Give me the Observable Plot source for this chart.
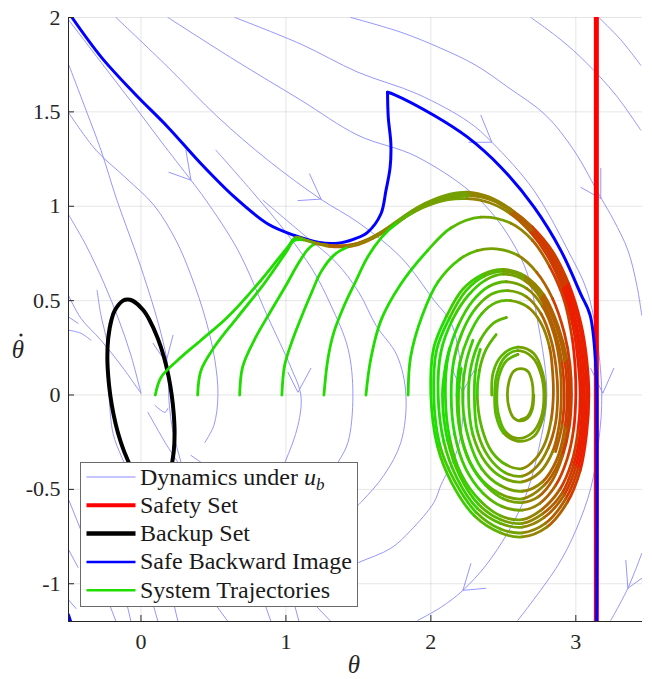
<!DOCTYPE html>
<html>
<head>
<meta charset="utf-8">
<script src="https://cdn.jsdelivr.net/npm/d3@7"></script>
<script src="https://cdn.jsdelivr.net/npm/@observablehq/plot@0.6"></script>
<style>
  html, body { margin: 0; padding: 0; background: #fff; }
  #wrap { position: relative; width: 652px; height: 679px; }
  #chart svg { display: block; }
  #overlay { position: absolute; left: 0; top: 0; pointer-events: none; }
  #wrap svg, #wrap svg text { font-family: "Liberation Serif", "Times New Roman", "DejaVu Serif", serif !important; }
</style>
</head>
<body>
<div id="wrap">
  <div id="chart"></div>
  <svg id="overlay" width="652" height="679"></svg>
</div>
<script>
// ---------- axes ----------
const xDomain = [-0.5, 3.46];
const yDomain = [-1.2, 2];
const xTicks = [0, 1, 2, 3];
const yTicks = [-1, -0.5, 0, 0.5, 1, 1.5, 2];
const xLabel = "θ";
const yLabel = "θ";   // drawn with a dot above it (time derivative)

// ---------- safety set boundary (theta = pi) ----------
const safetyTheta = [3.1416];

// ---------- backup set (closed curve) ----------
const backupSet = [
  [-0.092,0.506],[-0.059,0.5],[0.015,0.45],[0.057,0.4],[0.116,0.3],[0.159,0.2],[0.19,0.1],[0.212,0],
  [0.226,-0.1],[0.232,-0.2],[0.226,-0.3],[0.203,-0.4],[0.179,-0.45],[0.124,-0.5],[0.092,-0.506],
  [0.059,-0.5],[-0.015,-0.45],[-0.057,-0.4],[-0.116,-0.3],[-0.159,-0.2],[-0.19,-0.1],[-0.212,0],
  [-0.226,0.1],[-0.232,0.2],[-0.226,0.3],[-0.203,0.4],[-0.179,0.45],[-0.124,0.5]
];

// ---------- safe backward image ----------
const backwardImageA = [
  [-0.476,2.0],[-0.274,1.790],[-0.043,1.596],[0.186,1.419],[0.416,1.224],[0.646,1.048],[0.876,0.906],
  [1.060,0.845],[1.221,0.809],[1.359,0.804],[1.474,0.827],[1.563,0.862],[1.655,0.959],[1.690,1.083],
  [1.719,1.207],[1.724,1.330],[1.706,1.472],[1.701,1.604]
];
const backwardImageB = [
  [1.701,1.604],[1.747,1.592],[2.023,1.481],[2.253,1.366],[2.483,1.207],[2.712,0.995],[2.897,0.765],
  [3.034,0.535],[3.099,0.422],[3.138,0.157],[3.145,-0.02],[3.143,-1.2]
];
const backwardImageC = [[-0.5,-1.165],[-0.485,-1.2]];

// ---------- streamlines of the dynamics under u_b ----------
const streamlines = [
  [[-0.497,1.985],[-0.276,1.763],[-0.069,1.556],[0.138,1.344],[0.345,1.138],[0.448,1.032],[0.669,0.767],[0.876,0.412],[1.034,0.147],[1.103,-0.002],[1.083,-0.161],[0.993,-0.357],[0.897,-0.505]],
  [[-0.497,1.747],[-0.379,1.509],[-0.276,1.297],[-0.166,1.032],[0,0.676],[0.138,0.327],[0.186,0.147],[0.193,-0.028],[0.221,-0.198],[0.276,-0.357],[0.317,-0.505]],
  [[-0.497,1.493],[-0.310,1.297],[-0.103,1.149],[0.090,1.005],[0.241,0.820],[0.345,0.634],[0.448,0.396],[0.510,0.184],[0.531,-0.002],[0.503,-0.161],[0.441,-0.251]],
  [[-0.497,0.952],[-0.379,0.793],[-0.255,0.592],[-0.152,0.396],[-0.069,0.210],[0,0.009]],
  [[-0.497,0.523],[-0.414,0.406],[-0.276,0.290],[-0.138,0.158],[0,0.009]],
  [[-0.303,0.555],[-0.276,0.422],[-0.234,0.274],[-0.221,0.009],[-0.193,-0.203],[-0.138,-0.320],[-0.090,-0.399]],
  [[-0.497,0.412],[-0.434,0.380]],
  [[-0.497,0.343],[-0.414,0.327],[-0.345,0.290]],
  [[0.097,-0.055],[0.166,-0.092],[0.186,-0.070]],
  [[0.048,-0.092],[0.166,-0.251],[0.255,-0.357]],
  [[0.345,-0.320],[0.414,-0.357]],
  [[-0.172,2.0],[0.186,1.737],[0.531,1.472],[0.876,1.244],[1.241,1.037],[1.497,0.915],[1.793,0.730],[2.021,0.502],[2.138,0.385],[2.207,0.158],[2.228,-0.002],[2.186,-0.282],[2.069,-0.478],[2.021,-0.569],[1.862,-0.717],[1.724,-0.812],[1.503,-0.887],[1.310,-0.955]],
  [[0.186,2.0],[0.648,1.774],[1.103,1.562],[1.497,1.376],[1.910,1.260],[2.366,1.011],[2.641,0.692],[2.738,0.385],[2.800,-0.002],[2.745,-0.282],[2.655,-0.532],[2.531,-0.728],[2.379,-0.903],[2.221,-1.035],[2.069,-1.125],[1.910,-1.194]],
  [[0.648,2.0],[1.103,1.859],[1.497,1.710],[1.910,1.594],[2.262,1.446],[2.421,1.339],[2.710,1.085],[2.945,0.767],[3.076,0.555],[3.138,0.343],[3.179,0.009],[3.159,-0.240],[3.103,-0.494],[3.0,-0.717],[2.876,-0.903],[2.600,-1.194]],
  [[1.448,2.0],[1.793,1.922],[2.069,1.837],[2.310,1.747],[2.531,1.631],[2.793,1.482],[2.986,1.297],[3.172,1.046],[3.262,0.925],[3.359,0.767],[3.421,0.581],[3.455,0.422]],
  [[2.690,2.0],[2.897,1.882],[3.069,1.763],[3.276,1.589],[3.448,1.403]],
  [[3.159,2.0],[3.310,1.882],[3.448,1.747]],
  [[3.455,-0.839],[3.359,-1.024],[3.241,-1.194]],
  [[0.841,1.032],[1.103,0.862],[1.345,0.703],[1.503,0.544],[1.621,0.369],[1.766,0.210],[1.828,-0.002],[1.793,-0.251],[1.676,-0.425],[1.517,-0.569],[1.310,-0.717]],
  [[0.517,1.297],[0.759,1.085],[1.0,0.862],[1.186,0.661],[1.310,0.476],[1.428,0.247],[1.462,-0.002],[1.428,-0.251],[1.359,-0.357],[1.241,-0.505]],
  [[-0.228,-1.088],[-0.172,-1.2]],
  [[-0.103,-1.088],[-0.069,-1.2]],
  [[0.076,-1.088],[0.117,-1.2]],
  [[0.221,-1.088],[0.255,-1.2]],
  [[0.483,-1.078],[0.600,-1.2]],
  [[0.841,-1.078],[0.897,-1.2]],
  [[1.048,-1.078],[1.090,-1.2]],
  [[1.159,-1.078],[1.310,-1.2]],
  [[-0.497,-0.558],[-0.414,-0.717]],
  [[-0.497,-0.823],[-0.434,-0.913]],
  [[-0.497,-1.088],[-0.448,-1.131]]
];

// ---------- arrow heads on the streamlines (wing, tip, wing) ----------
const arrowHeads = [
  [[0.310,1.297],[0.345,1.138],[0.193,1.180]],
  [[1.083,1.030],[1.243,1.038],[1.163,1.171]],
  [[2.262,1.339],[2.421,1.339],[2.345,1.482]],
  [[3.034,1.100],[3.172,1.041],[3.172,1.201]],
  [[3.103,0.141],[3.186,0.009],[3.262,0.141]],
  [[2.150,0.131],[2.219,0.016],[2.299,0.131]],
  [[1.014,0.120],[1.083,0.014],[1.172,0.141]],
  [[2.276,-0.893],[2.221,-1.035],[2.379,-1.024]],
  [[3.345,-0.876],[3.359,-1.024],[3.455,-0.971]],
  [[0.083,0.274],[0.172,0.173],[0.221,0.316]]
];

// ---------- system trajectories: [theta, thetaDot, colour level] ----------
const trajColors = ["#20dc00","#3dcc00","#5ab600","#74a000","#948300","#b06000","#cf3c00","#ea1f00"];
const trajectories = [
  [[0.099,0,0],[0.138,0.093,0],[0.253,0.184,0],[0.414,0.29,0],[0.598,0.413,0],[0.828,0.608,0],[1.012,0.784,0],[1.069,0.835,3],[1.15,0.818,4],[1.25,0.798,5],[1.35,0.79,5],[1.45,0.795,5],[1.55,0.82,4],[1.68,0.875,3],[1.8,0.94,3],[1.91,0.995,3],[2.02,1.035,3],[2.14,1.065,3],[2.25,1.075,4],[2.4,1.05,4],[2.55,0.985,5],[2.7,0.89,6],[2.84,0.76,6],[2.95,0.59,7],[3.035,0.38,7],[3.075,0.19,7],[3.09,0,7],[3.075,-0.2,7],[3.03,-0.4,6],[2.94,-0.57,5],[2.8,-0.7,4],[2.63,-0.752,3],[2.48,-0.73,2],[2.3,-0.64,1],[2.14,-0.46,1],[2.045,-0.27,0],[2.0,0,0],[2.02,0.25,0],[2.11,0.42,1],[2.22,0.56,1],[2.36,0.64,2],[2.5,0.665,3],[2.65,0.63,4],[2.78,0.53,5],[2.88,0.36,5],[2.94,0.18,6],[2.955,0,6],[2.94,-0.18,5],[2.88,-0.36,5],[2.78,-0.48,4],[2.63,-0.55,3],[2.47,-0.52,2],[2.32,-0.42,1],[2.22,-0.25,1],[2.19,-0.05,1],[2.2,0.1,1],[2.21,0.14,1]],
  [[0.391,0,0],[0.414,0.13,0],[0.506,0.254,0],[0.667,0.413,0],[0.85,0.59,0],[1.0,0.755,0],[1.057,0.818,0],[1.12,0.822,3],[1.2,0.805,4],[1.3,0.792,5],[1.4,0.79,5],[1.5,0.803,5],[1.6,0.835,4],[1.72,0.89,3],[1.84,0.955,3],[1.95,1.005,3],[2.06,1.04,3],[2.17,1.062,3],[2.27,1.068,4],[2.42,1.04,4],[2.56,0.975,5],[2.7,0.88,6],[2.83,0.75,6],[2.94,0.58,7],[3.02,0.38,7],[3.06,0.19,7],[3.075,0,7],[3.06,-0.2,7],[3.015,-0.39,6],[2.93,-0.55,5],[2.79,-0.68,4],[2.63,-0.73,3],[2.48,-0.71,2],[2.31,-0.62,1],[2.16,-0.45,1],[2.06,-0.26,0],[2.02,0,0],[2.04,0.24,0],[2.13,0.41,1],[2.24,0.55,1],[2.37,0.63,2],[2.5,0.655,3],[2.65,0.62,4],[2.77,0.52,5],[2.87,0.35,5],[2.925,0.17,6],[2.94,0,6],[2.925,-0.17,5],[2.87,-0.34,5],[2.77,-0.46,4],[2.63,-0.51,3],[2.48,-0.48,2],[2.35,-0.39,1],[2.26,-0.23,1],[2.22,-0.04,1],[2.24,0.16,1],[2.29,0.29,1]],
  [[0.681,0,0],[0.701,0.148,0],[0.781,0.29,0],[0.9,0.45,0],[1.0,0.58,0],[1.08,0.69,0],[1.15,0.77,0],[1.2,0.80,4],[1.3,0.787,5],[1.4,0.785,5],[1.5,0.797,5],[1.6,0.83,4],[1.72,0.885,3],[1.84,0.95,3],[1.95,1.0,3],[2.06,1.035,3],[2.17,1.057,3],[2.27,1.062,4],[2.42,1.035,4],[2.56,0.97,5],[2.7,0.87,6],[2.82,0.745,6],[2.93,0.575,7],[3.005,0.375,7],[3.045,0.19,7],[3.06,0,7],[3.045,-0.2,7],[3.0,-0.38,6],[2.92,-0.53,5],[2.78,-0.65,4],[2.63,-0.70,3],[2.48,-0.68,2],[2.32,-0.6,1],[2.18,-0.44,1],[2.09,-0.25,0],[2.05,0,0],[2.07,0.23,0],[2.15,0.40,1],[2.26,0.53,1],[2.38,0.61,2],[2.5,0.64,3],[2.65,0.605,4],[2.76,0.51,5],[2.855,0.34,5],[2.905,0.17,6],[2.92,0,6],[2.905,-0.16,5],[2.86,-0.3,5]],
  [[0.972,0,0],[0.991,0.157,0],[1.04,0.28,0],[1.1,0.40,0],[1.17,0.53,0],[1.244,0.655,0],[1.33,0.74,0],[1.43,0.785,4],[1.52,0.805,4],[1.62,0.845,4],[1.73,0.895,3],[1.85,0.955,3],[1.96,1.0,3],[2.07,1.03,3],[2.18,1.05,3],[2.28,1.055,4],[2.43,1.03,4],[2.57,0.965,5],[2.71,0.865,6],[2.82,0.74,6],[2.92,0.57,7],[2.995,0.37,7],[3.03,0.185,7],[3.045,0,7],[3.03,-0.2,7],[2.985,-0.37,6],[2.905,-0.52,5],[2.77,-0.63,4],[2.63,-0.68,3],[2.48,-0.66,2],[2.33,-0.58,1],[2.2,-0.43,1],[2.115,-0.24,0],[2.08,0,0],[2.1,0.15,0],[2.13,0.25,0]],
  [[1.262,0,0],[1.29,0.193,0],[1.33,0.33,0],[1.40,0.47,0],[1.48,0.6,0],[1.563,0.73,0],[1.66,0.835,0],[1.77,0.915,2],[1.88,0.97,3],[2.0,1.01,3],[2.12,1.035,3],[2.25,1.04,4],[2.4,1.02,4],[2.55,0.96,5],[2.69,0.86,6],[2.81,0.73,6],[2.91,0.56,7],[2.98,0.365,7],[3.015,0.18,7],[3.03,0,7],[3.015,-0.19,6],[2.97,-0.36,6],[2.89,-0.5,5],[2.76,-0.61,4],[2.63,-0.66,3],[2.48,-0.64,2],[2.34,-0.56,1],[2.21,-0.42,1],[2.13,-0.23,0],[2.1,0,0],[2.12,0.21,0],[2.19,0.37,1],[2.29,0.5,1],[2.4,0.575,2],[2.52,0.6,3],[2.66,0.565,4],[2.77,0.47,5],[2.85,0.32,5],[2.89,0.16,5],[2.9,0,5],[2.885,-0.16,5],[2.84,-0.3,4],[2.75,-0.41,4],[2.63,-0.46,3],[2.5,-0.44,2],[2.38,-0.36,2],[2.29,-0.21,1],[2.26,0,1],[2.28,0.16,1],[2.34,0.29,2],[2.43,0.38,2],[2.52,0.41,3]],
  [[1.552,0,0],[1.586,0.193,0],[1.655,0.394,0],[1.793,0.588,0],[1.977,0.765,1],[2.138,0.885,2],[2.345,0.942,3],[2.552,0.91,4],[2.7,0.82,5],[2.82,0.68,6],[2.92,0.5,6],[2.975,0.3,7],[2.995,0.15,7],[3.0,0,7],[2.985,-0.18,6],[2.94,-0.34,6],[2.86,-0.48,5],[2.75,-0.575,4],[2.63,-0.61,3],[2.49,-0.59,2],[2.36,-0.52,1],[2.24,-0.39,1],[2.165,-0.21,0],[2.14,0,0],[2.16,0.19,1],[2.22,0.34,1],[2.31,0.46,2],[2.42,0.535,2],[2.53,0.553,3],[2.66,0.52,4],[2.76,0.43,5],[2.83,0.29,5],[2.865,0.14,5],[2.875,0,5],[2.86,-0.15,5],[2.81,-0.28,4],[2.73,-0.38,4],[2.63,-0.43,3],[2.51,-0.41,2],[2.4,-0.33,2],[2.32,-0.19,1],[2.3,0,1],[2.31,0.14,1],[2.34,0.24,2]],
  [[1.843,0,0],[1.86,0.2,0],[1.94,0.42,0],[2.05,0.6,1],[2.2,0.72,2],[2.32,0.765,3],[2.45,0.774,3],[2.6,0.74,4],[2.73,0.65,5],[2.84,0.51,6],[2.92,0.33,6],[2.96,0.16,6],[2.97,0,6],[2.955,-0.17,6],[2.91,-0.32,5],[2.84,-0.45,5],[2.74,-0.54,4],[2.63,-0.57,3],[2.5,-0.55,2],[2.38,-0.48,1],[2.27,-0.36,1],[2.2,-0.19,1],[2.18,0,0],[2.2,0.17,1],[2.26,0.31,1],[2.35,0.43,2],[2.45,0.49,2],[2.55,0.5,3],[2.67,0.465,4],[2.76,0.38,4],[2.82,0.25,5],[2.84,0.12,5],[2.845,0,5],[2.83,-0.13,4],[2.79,-0.25,4],[2.72,-0.34,4],[2.63,-0.39,3],[2.52,-0.37,2],[2.42,-0.3,2],[2.35,-0.17,2],[2.32,0,1],[2.335,0.13,2],[2.38,0.24,2],[2.45,0.32,2]],
  [[2.42,0,2],[2.43,0.12,2],[2.49,0.21,2],[2.6,0.254,3],[2.71,0.22,3],[2.77,0.12,3],[2.79,0,3],[2.77,-0.13,3],[2.71,-0.22,3],[2.6,-0.245,3],[2.5,-0.2,2],[2.45,-0.11,2],[2.44,0,2],[2.455,0.11,2],[2.51,0.2,2],[2.6,0.235,3],[2.7,0.2,3],[2.76,0.11,3],[2.78,0,3],[2.76,-0.12,3],[2.7,-0.2,3],[2.6,-0.23,3],[2.51,-0.19,2],[2.465,-0.1,2],[2.455,0,2],[2.47,0.1,2],[2.52,0.18,2],[2.6,0.215,3]],
  [[2.71,0,3],[2.70,-0.075,3],[2.67,-0.12,3],[2.62,-0.137,3],[2.57,-0.12,3],[2.54,-0.07,3],[2.528,0,3],[2.54,0.075,3],[2.57,0.125,3],[2.62,0.14,3],[2.67,0.125,3],[2.698,0.07,3],[2.705,0,3],[2.695,-0.07,3],[2.665,-0.115,3],[2.62,-0.13,3]]
];

// ---------- legend ----------
const streamColor = "#8a8aff";
const legendItems = [
  {label: "Dynamics under ", sub: true, color: streamColor, width: 1},
  {label: "Safety Set", color: "#ff0000", width: 4},
  {label: "Backup Set", color: "#000000", width: 4.5},
  {label: "Safe Backward Image", color: "#0000ff", width: 2.5},
  {label: "System Trajectories", color: "#22dd00", width: 2.5}
];

// ---------- build tables ----------
const streamRows = streamlines.flatMap((line, id) => line.map(([x, y]) => ({x, y, id})));
const arrowRows = arrowHeads.flatMap((a, id) => a.map(([x, y]) => ({x, y, id})));
const backupRows = backupSet.map(([x, y]) => ({x, y}));
const blueRows = [backwardImageA, backwardImageB, backwardImageC].flatMap((b, id) => b.map(([x, y]) => ({x, y, id})));

// split each trajectory into runs of one colour; each run carries one neighbour
// on each side as a spline control point (catmull-rom-open), so the pieces join
// into the same smooth curve as the whole trajectory.
const trajRows = [];
let segId = 0;
trajectories.forEach((tr) => {
  const n = tr.length;
  let start = 0;
  for (let i = 1; i <= n; i++) {
    if (i === n || tr[i][2] !== tr[start][2]) {
      const end = Math.min(i, n - 1);
      const idx = [Math.max(start - 1, 0)];
      for (let j = start; j <= end; j++) idx.push(j);
      idx.push(Math.min(end + 1, n - 1));
      const col = trajColors[tr[start][2]];
      idx.forEach((j) => trajRows.push({x: tr[j][0], y: tr[j][1], seg: segId, col}));
      segId++;
      start = i;
    }
  }
});

const fmt = (d) => String(d);
const W = 652, H = 679, ML = 68, MR = 10, MT = 17, MB = 58;
const FONT = "'Liberation Serif', 'Times New Roman', 'DejaVu Serif', serif";

const chart = Plot.plot({
  width: W, height: H,
  marginLeft: ML, marginRight: MR, marginTop: MT, marginBottom: MB,
  style: {fontFamily: FONT, fontSize: "22px", color: "#262626", background: "#fff"},
  x: {domain: xDomain, ticks: xTicks, tickFormat: fmt, tickSize: 0, tickPadding: 12, label: null},
  y: {domain: yDomain, ticks: yTicks, tickFormat: fmt, tickSize: 0, tickPadding: 8, label: null},
  color: {type: "identity"},
  marks: [
    Plot.ruleX(xTicks, {stroke: "#000", strokeOpacity: 0.1}),
    Plot.ruleY(yTicks, {stroke: "#000", strokeOpacity: 0.1}),
    Plot.line(streamRows, {x: "x", y: "y", z: "id", stroke: streamColor, strokeWidth: 0.9, curve: "catmull-rom", clip: true}),
    Plot.line(arrowRows, {x: "x", y: "y", z: "id", stroke: streamColor, strokeWidth: 0.9, clip: true}),
    Plot.ruleX(safetyTheta, {stroke: "#ff0000", strokeWidth: 5}),
    Plot.line(backupRows, {x: "x", y: "y", stroke: "#000", strokeWidth: 4, curve: "catmull-rom-closed"}),
    Plot.line(blueRows, {x: "x", y: "y", z: "id", stroke: "#0000ff", strokeWidth: 3, curve: "catmull-rom", clip: true}),
    Plot.line(trajRows, {x: "x", y: "y", z: "seg", stroke: "col", strokeWidth: 2.8, curve: "catmull-rom-open", strokeLinecap: "round", strokeLinejoin: "round", clip: true}),
    Plot.ruleX([xDomain[0]], {stroke: "#262626"}),
    Plot.ruleY([yDomain[0]], {stroke: "#262626"}),
    Plot.ruleX(xTicks, {stroke: "#262626", insetTop: H - MT - MB - 6}),
    Plot.ruleY(yTicks, {stroke: "#262626", insetRight: W - ML - MR - 6})
  ]
});
document.getElementById("chart").appendChild(chart);

// ---------- overlay: axis labels + legend ----------
const ov = d3.select("#overlay");
ov.append("text").attr("x", 18).attr("y", 358).attr("text-anchor", "middle")
  .attr("font-style", "italic").attr("font-size", 25).attr("fill", "#262626").text(yLabel);
ov.append("circle").attr("cx", 21).attr("cy", 335).attr("r", 1.6).attr("fill", "#262626");
ov.append("text").attr("x", 354).attr("y", 673).attr("text-anchor", "middle")
  .attr("font-style", "italic").attr("font-size", 25).attr("fill", "#262626").text(xLabel);

const lg = ov.append("g").attr("transform", "translate(80.5,462.5)");
lg.append("rect").attr("width", 277).attr("height", 144).attr("fill", "#fff").attr("stroke", "#6a6a6a").attr("stroke-width", 1);
legendItems.forEach((d, i) => {
  const cy = 14.5 + i * 28.3;
  lg.append("line").attr("x1", 6).attr("x2", 55).attr("y1", cy).attr("y2", cy)
    .attr("stroke", d.color).attr("stroke-width", d.width);
  const t = lg.append("text").attr("x", 59.5).attr("y", cy + 7.5).attr("font-size", 24).attr("fill", "#1a1a1a");
  t.append("tspan").text(d.label);
  if (d.sub) {
    t.append("tspan").attr("font-style", "italic").text("u");
    t.append("tspan").attr("font-style", "italic").attr("font-size", 17).attr("dy", 5).text("b");
  }
});
</script>
</body>
</html>
